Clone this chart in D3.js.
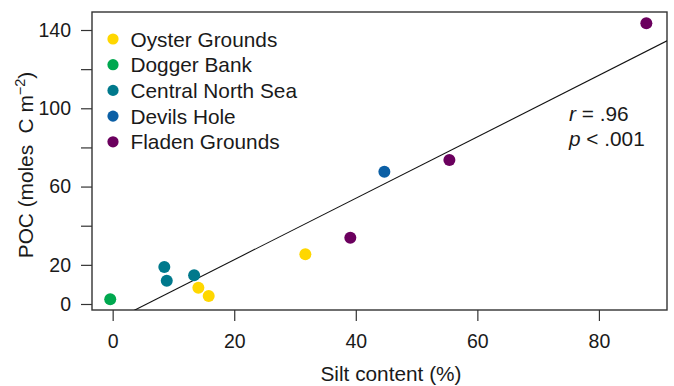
<!DOCTYPE html>
<html>
<head>
<meta charset="utf-8">
<script src="https://cdn.jsdelivr.net/npm/d3@7"></script>
<style>
  body { margin: 0; background: #fff; }
  svg { font-family: "Liberation Sans", Arial, Helvetica, sans-serif; }
</style>
</head>
<body>
<div id="canvas"></div>
<script>
"use strict"

let svgWidth = 674;
let svgHeight = 386;

/* Data: silt content (%) and POC (moles C m-2) per site */
let sites = ["Oyster Grounds", "Dogger Bank", "Central North Sea", "Devils Hole", "Fladen Grounds"];
let siteColors = ["#ffd700", "#00a84f", "#00798c", "#0b5fa5", "#6b005e"];

let siltContent = [14.1, 15.8, 31.7, -0.4, 8.5, 8.9, 13.4, 44.7, 55.4, 87.8, 39.1];
let pocValues   = [8.3, 4.1, 25.4, 2.4, 18.9, 11.9, 14.7, 67.6, 73.6, 143.4, 33.9];
let pointSite   = [0, 0, 0, 1, 2, 2, 2, 3, 4, 4, 4];

let xTicks = [0, 20, 40, 60, 80];
let yTicks = [0, 20, 40, 60, 80, 100, 120, 140];
let yTickLabels = ["0", "20", "", "60", "", "100", "", "140"];

let statLines = [["r", " = .96"], ["p", " < .001"]];

/* Plot box */
let plotLeft = 92, plotRight = 667, plotTop = 12, plotBottom = 310;

let svg = d3.select("#canvas")
    .append("svg")
    .attr("width", svgWidth)
    .attr("height", svgHeight);

/* Scales */
let xScale = d3.scaleLinear()
    .domain([-3.4, 91.2])
    .range([plotLeft, plotRight]);

let yScale = d3.scaleLinear()
    .domain([-3.07, 149.2])
    .range([plotBottom, plotTop]);

/* Axes */
let xAxis = svg.append("g")
    .attr("transform", "translate(0," + plotBottom + ")")
    .call(d3.axisBottom(xScale).tickValues(xTicks).tickSize(11).tickPadding(13));

let yAxis = svg.append("g")
    .attr("transform", "translate(" + plotLeft + ",0)")
    .call(d3.axisLeft(yScale).tickValues(yTicks).tickSize(11).tickPadding(10)
        .tickFormat(function (d, i) { return yTickLabels[i]; }));

[xAxis, yAxis].forEach(function (ax) {
    ax.select(".domain").remove();
    ax.selectAll("line").attr("stroke", "#333").attr("stroke-width", 1.2);
    ax.selectAll("text")
        .attr("fill", "#1a1a1a")
        .style("font-size", "19.5px")
        .style("font-family", "'Liberation Sans', Arial, sans-serif");
});

/* Box */
svg.append("rect")
    .attr("x", plotLeft)
    .attr("y", plotTop)
    .attr("width", plotRight - plotLeft)
    .attr("height", plotBottom - plotTop)
    .attr("fill", "none")
    .attr("stroke", "#333")
    .attr("stroke-width", 1.4);

/* Least squares line */
let meanX = d3.mean(siltContent);
let meanY = d3.mean(pocValues);
let sxy = d3.sum(siltContent, function (x, i) { return (x - meanX) * (pocValues[i] - meanY); });
let sxx = d3.sum(siltContent, function (x) { return (x - meanX) * (x - meanX); });
let slope = sxy / sxx;
let intercept = meanY - slope * meanX;

svg.append("clipPath")
    .attr("id", "plotClip")
    .append("rect")
    .attr("x", plotLeft)
    .attr("y", plotTop)
    .attr("width", plotRight - plotLeft)
    .attr("height", plotBottom - plotTop);

let xDom = xScale.domain();
svg.append("line")
    .attr("clip-path", "url(#plotClip)")
    .attr("x1", xScale(xDom[0]))
    .attr("y1", yScale(intercept + slope * xDom[0]))
    .attr("x2", xScale(xDom[1]))
    .attr("y2", yScale(intercept + slope * xDom[1]))
    .attr("stroke", "#111")
    .attr("stroke-width", 1.1);

/* Points */
svg.selectAll("circle.dataPoint")
    .data(siltContent)
    .join("circle")
    .attr("class", "dataPoint")
    .attr("cx", function (d) { return xScale(d); })
    .attr("cy", function (d, i) { return yScale(pocValues[i]); })
    .attr("r", 6)
    .attr("fill", function (d, i) { return siteColors[pointSite[i]]; });

/* Legend */
let legend = svg.selectAll("g.legendItem")
    .data(sites)
    .join("g")
    .attr("class", "legendItem")
    .attr("transform", function (d, i) { return "translate(113," + (39 + i * 25.7) + ")"; });

legend.append("circle")
    .attr("r", 5.6)
    .attr("fill", function (d, i) { return siteColors[i]; });

legend.append("text")
    .attr("x", 17.5)
    .attr("y", 7.5)
    .attr("fill", "#1a1a1a")
    .style("font-size", "20.8px")
    .text(function (d) { return d; });

/* Stats text */
svg.selectAll("text.stat")
    .data(statLines)
    .join("text")
    .attr("class", "stat")
    .attr("x", 569)
    .attr("y", function (d, i) { return 120.7 + i * 25; })
    .attr("fill", "#1a1a1a")
    .style("font-size", "20.8px")
    .style("white-space", "pre")
    .each(function (d) {
        let t = d3.select(this);
        t.append("tspan").style("font-style", "italic").text(d[0]);
        t.append("tspan").text(d[1]);
    });

/* Axis titles */
svg.append("text")
    .attr("x", 391)
    .attr("y", 380.5)
    .attr("text-anchor", "middle")
    .attr("fill", "#1a1a1a")
    .style("font-size", "20.8px")
    .text("Silt content (%)");

let yTitle = svg.append("text")
    .attr("transform", "translate(33,165) rotate(-90)")
    .attr("text-anchor", "middle")
    .attr("fill", "#1a1a1a")
    .style("font-size", "20.8px")
    .style("white-space", "pre");
yTitle.append("tspan").text("POC (moles  C m");
yTitle.append("tspan").attr("dy", -8).style("font-size", "14.5px").text("\u22122");
yTitle.append("tspan").attr("dy", 8).text(")");
</script>
</body>
</html>
